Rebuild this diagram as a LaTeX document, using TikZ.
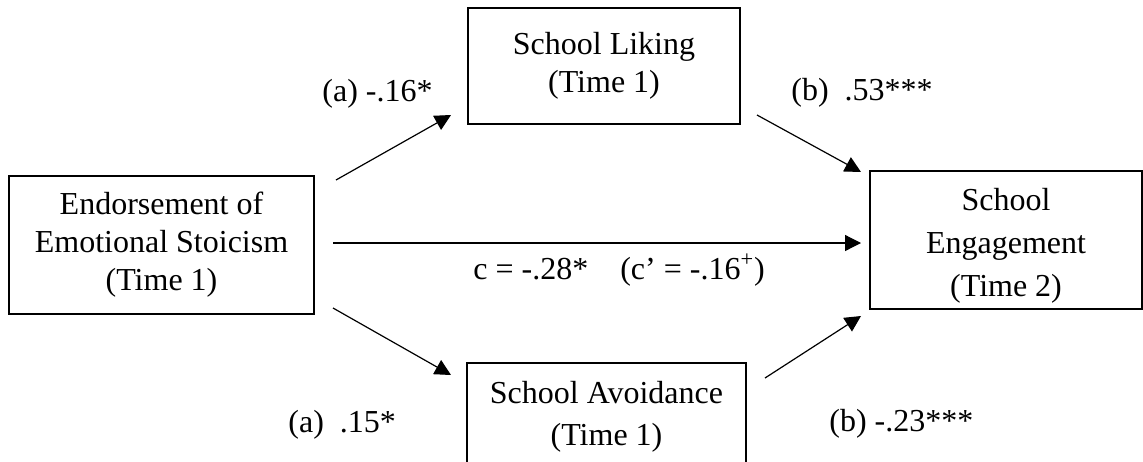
\documentclass[tikz,border=0pt]{standalone}
\usepackage{fontspec}
\setmainfont{Liberation Serif}
\usetikzlibrary{arrows.meta}
\tikzset{
  box/.style={draw, line width=0.6pt, align=center, inner sep=0pt,
    font=\fontsize{16}{19}\selectfont},
  lbl/.style={anchor=base west, inner sep=0pt, font=\fontsize{16}{19}\selectfont},
  arr/.style={-{Triangle[length=8pt,width=8pt]}, line width=0.6pt}
}
\begin{document}
\begin{tikzpicture}[x=0.5pt,y=-0.5pt]
  \useasboundingbox (0,0) rectangle (1143,461);
  % Kästen
  \node[box, minimum width=152.5pt, minimum height=69pt] (stoic) at (161.5,245)
    {Endorsement of\\Emotional Stoicism\\(Time 1)};
  \node[box, minimum width=136pt, minimum height=58pt] (liking) at (604,66)
    {School Liking\\(Time 1)};
  \node[box, minimum width=139.5pt, minimum height=51pt] (avoid) at (606.5,414)
    {\rule{0pt}{14pt}School Avoidance\\[2pt](Time 1)};
  \node[box, minimum width=136pt, minimum height=69pt] (engage) at (1006,240)
    {\rule{0pt}{17pt}School\\[2.5pt]Engagement\\[2.5pt](Time 2)};
  % Enden der Pfeile
  \coordinate (sa) at (336,180);  \coordinate (la) at (451,115);
  \coordinate (sc) at (333,243);  \coordinate (ec) at (861,243);
  \coordinate (sb) at (333,308);  \coordinate (ab) at (451,375);
  \coordinate (lb) at (757,115);  \coordinate (eb) at (861,172);
  \coordinate (ad) at (765,378);  \coordinate (ed) at (861,316);
  % Pfeile
  \draw[arr] (sa) -- (la);
  \draw[arr] (sc) -- (ec);
  \draw[arr] (sb) -- (ab);
  \draw[arr] (lb) -- (eb);
  \draw[arr] (ad) -- (ed);
  % Koeffizienten
  \node[lbl] (pa1) at (322,101) {(a) -.16*};
  \node[lbl] (pb1) at (791,100) {(b)\ \ .53***};
  \node[lbl] (pc) at (473,279) {c = -.28*\quad(c’ = -.16\textsuperscript{+})};
  \node[lbl] (pa2) at (288,432) {(a)\ \ .15*};
  \node[lbl] (pb2) at (829,431) {(b) -.23***};
\end{tikzpicture}
\end{document}
